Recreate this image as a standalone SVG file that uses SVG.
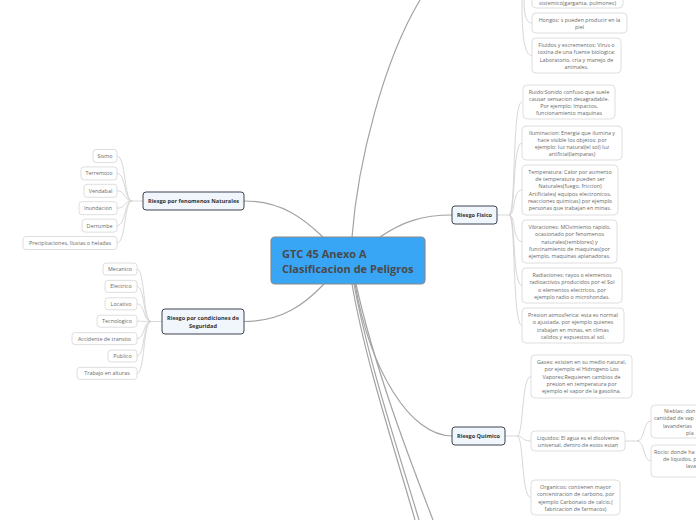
<svg xmlns="http://www.w3.org/2000/svg" width="696" height="520" viewBox="0 0 696 520">
<style>
text{font-family:"Open Sans","Noto Sans","Liberation Sans",sans-serif}
.c1{fill:none;stroke:#a3a3a3;stroke-width:1.2}
.c2{fill:none;stroke:#d2d2d2;stroke-width:0.9}
.leaf rect{fill:#fff;stroke:#d6d6d6;stroke-width:0.8}
.leaf text{font-size:5.4px;fill:#6a6a6a;text-anchor:middle}
.leaf text.s{text-anchor:start}
.main rect{fill:#f1f6fc;stroke:#3c4450;stroke-width:1}
.main text{font-size:5.6px;font-weight:bold;fill:#333;text-anchor:middle}
.root rect{fill:#39a5f5;stroke:#8a8a8a;stroke-width:1.2}
.root text{font-size:11px;font-weight:bold;fill:#4a4a4a}
</style>
<g id="connectors">
<path class="c1" d="M352,237 C358,160 384,60 420,0"/>
<path class="c1" d="M380,237 C402,222 422,215 452,215"/>
<path class="c1" d="M323,237 C304,219 282,201 244,201"/>
<path class="c1" d="M324,284 C305,304 282,321.5 244,321.5"/>
<path class="c1" d="M355,284 C370,370 410,436 452,436"/>
<path class="c1" d="M352,284 C365,360 395,450 415,520"/>
<path class="c1" d="M354,284 C368,360 398,450 419,520"/>
<path class="c1" d="M356,284 C375,370 410,460 433,520"/>
<path class="c2" d="M143,201 H132 C124,201 126,156 117,156"/>
<path class="c2" d="M132,201 C124,201 126,173.4 117,173.4"/>
<path class="c2" d="M132,201 C124,201 126,190.8 117,190.8"/>
<path class="c2" d="M132,201 C124,201 126,208.2 117,208.2"/>
<path class="c2" d="M132,201 C124,201 126,225.6 117,225.6"/>
<path class="c2" d="M132,201 C124,201 126,243 117,243"/>
<path class="c2" d="M162,321.5 H151 C143,321.5 145,269 137,269"/>
<path class="c2" d="M151,321.5 C143,321.5 145,286.4 137,286.4"/>
<path class="c2" d="M151,321.5 C143,321.5 145,303.8 137,303.8"/>
<path class="c2" d="M151,321.5 C143,321.5 145,321.2 137,321.2"/>
<path class="c2" d="M151,321.5 C143,321.5 145,338.6 137,338.6"/>
<path class="c2" d="M151,321.5 C143,321.5 145,356 137,356"/>
<path class="c2" d="M151,321.5 C143,321.5 145,373.4 137,373.4"/>
<path class="c2" d="M497,215 H509 C516,215 512,102 522,102"/>
<path class="c2" d="M509,215 C516,215 512,143 522,143"/>
<path class="c2" d="M509,215 C516,215 512,190 522,190"/>
<path class="c2" d="M509,215 C516,215 512,241.5 522,241.5"/>
<path class="c2" d="M509,215 C516,215 512,285.5 522,285.5"/>
<path class="c2" d="M509,215 C516,215 512,325.5 522,325.5"/>
<path class="c2" d="M505,436 H517 C524,436 521,376.5 531,376.5"/>
<path class="c2" d="M517,436 C524,436 521,441 531,441"/>
<path class="c2" d="M517,436 C524,436 521,497.5 531,497.5"/>
<path class="c2" d="M625,441 H637 C645,441 643,421 651,421"/>
<path class="c2" d="M637,441 C645,441 643,461 651,461"/>
<path class="c2" d="M524,0 C524,15 526,23 532,23"/>
<path class="c2" d="M522,0 C522,35 524,55.5 532,55.5"/>
</g>
<g id="root" class="root">
<rect x="271" y="237" width="154" height="47" rx="4"/>
<text x="282" y="257.5">GTC 45 Anexo A</text>
<text x="282" y="272.5">Clasificacion de Peligros</text>
</g>
<g id="naturales" class="main">
<rect x="143" y="192" width="101" height="18" rx="3"/>
<text x="193.5" y="203">Riesgo por fenomenos Naturales</text>
</g>
<g id="seguridad" class="main">
<rect x="162" y="309" width="82" height="25" rx="3"/>
<text x="203" y="319.5">Riesgo por condiciones de</text>
<text x="203" y="327.5">Seguridad</text>
</g>
<g id="fisico" class="main">
<rect x="452" y="206" width="45" height="18" rx="3"/>
<text x="474.5" y="217">Riesgo Fisico</text>
</g>
<g id="quimico" class="main">
<rect x="452" y="427" width="53" height="18" rx="3"/>
<text x="478.5" y="438">Riesgo Quimico</text>
</g>
<g id="sismo" class="leaf"><rect x="93" y="149.5" width="24" height="13" rx="3"/><text x="105" y="158">Sismo</text></g>
<g id="terremoto" class="leaf"><rect x="81" y="166.9" width="36" height="13" rx="3"/><text x="99" y="175.4">Terremoto</text></g>
<g id="vendabal" class="leaf"><rect x="84" y="184.3" width="33" height="13" rx="3"/><text x="100.5" y="192.8">Vendabal</text></g>
<g id="inundacion" class="leaf"><rect x="79" y="201.7" width="38" height="13" rx="3"/><text x="98" y="210.2">Inundacion</text></g>
<g id="derrumbe" class="leaf"><rect x="82" y="219.1" width="35" height="13" rx="3"/><text x="99.5" y="227.6">Derrumbe</text></g>
<g id="precipitaciones" class="leaf"><rect x="23" y="236.5" width="94" height="13" rx="3"/><text x="70" y="245">Precipitaciones, lluvias o heladas</text></g>
<g id="mecanico" class="leaf"><rect x="103" y="263" width="34" height="12" rx="3"/><text x="120" y="271">Mecanico</text></g>
<g id="electrico" class="leaf"><rect x="105" y="280.4" width="32" height="12" rx="3"/><text x="121" y="288.4">Electrico</text></g>
<g id="locativo" class="leaf"><rect x="105" y="297.8" width="32" height="12" rx="3"/><text x="121" y="305.8">Locativo</text></g>
<g id="tecnologico" class="leaf"><rect x="97" y="315.2" width="40" height="12" rx="3"/><text x="117" y="323.2">Tecnologico</text></g>
<g id="accidente" class="leaf"><rect x="72" y="332.6" width="65" height="12" rx="3"/><text x="104.5" y="340.6">Accidente de transito</text></g>
<g id="publico" class="leaf"><rect x="108" y="350" width="29" height="12" rx="3"/><text x="122.5" y="358">Publico</text></g>
<g id="trabajo" class="leaf"><rect x="77" y="367.4" width="60" height="12" rx="3"/><text x="107" y="375.4">Trabajo en alturas</text></g>
<g id="ruido" class="leaf"><rect x="523" y="85" width="92" height="34" rx="4"/>
<text x="569" y="93.5">Ruido:Sonido confuso que suele</text><text x="569" y="100.8">causar sensacion desagradable.</text><text x="569" y="108.1">Por ejemplo: Impactos,</text><text x="569" y="115.4">funcionamiento maquinas</text></g>
<g id="iluminacion" class="leaf"><rect x="522" y="126" width="100" height="34" rx="4"/>
<text x="572" y="134.5">Iluminacion: Energia que ilumina y</text><text x="572" y="141.8">hace visible los objetos: por</text><text x="572" y="149.1">ejemplo: luz natural(el sol) luz</text><text x="572" y="156.4">artificial(lamparas)</text></g>
<g id="temperatura" class="leaf"><rect x="522" y="165" width="96" height="50" rx="4"/>
<text x="570" y="173.7">Temperatura: Calor por aumento</text><text x="570" y="181">de temperatura pueden ser</text><text x="570" y="188.3">Naturales(fuego, friccion)</text><text x="570" y="195.6">Artificiales( equipos electronicos,</text><text x="570" y="202.9">reacciones quimicas) por ejemplo</text><text x="570" y="210.2">personas que trabajan en minas.</text></g>
<g id="vibraciones" class="leaf"><rect x="522" y="220" width="95" height="43" rx="4"/>
<text x="569.5" y="228.9">Vibraciones: MOvimiento rapido,</text><text x="569.5" y="236.2">ocasionado por fenomenos</text><text x="569.5" y="243.5">naturales(temblores) y</text><text x="569.5" y="250.8">funcinamiento de maquinas(por</text><text x="569.5" y="258.1">ejemplo, maquinas aplanadoras.</text></g>
<g id="radiaciones" class="leaf"><rect x="522" y="268" width="100" height="35" rx="4"/>
<text x="572" y="277">Radiaciones: rayos o elementos</text><text x="572" y="284.3">radioactivos producidos por el Sol</text><text x="572" y="291.6">o elementos electricos, por</text><text x="572" y="298.9">ejemplo radio o microhondas.</text></g>
<g id="presion" class="leaf"><rect x="522" y="308" width="102" height="35" rx="4"/>
<text x="573" y="317">Presion atmosferica: esta es normal</text><text x="573" y="324.3">o ajustada. por ejemplo quienes</text><text x="573" y="331.6">trabajan en minas, en climas</text><text x="573" y="338.9">calidos y expuestos al sol.</text></g>
<g id="gases" class="leaf"><rect x="531" y="355" width="101" height="43" rx="4"/>
<text x="581.5" y="363.9">Gases: existen en su medio natural,</text><text x="581.5" y="371.2">por ejemplo el Hidrogeno  Los</text><text x="581.5" y="378.5">Vapores:Requieren cambios de</text><text x="581.5" y="385.8">presion en temperatura por</text><text x="581.5" y="393.1">ejemplo el vapor de la gasolina.</text></g>
<g id="liquidos" class="leaf"><rect x="531" y="431" width="94" height="20" rx="4"/>
<text x="578" y="439.5">Liquidos: El agua es el disolvente</text><text x="578" y="446.8">universal, dentro de estos estan</text></g>
<g id="organicos" class="leaf"><rect x="531" y="480" width="89" height="35" rx="4"/>
<text x="575.5" y="489">Organicos: contienen mayor</text><text x="575.5" y="496.3">concentracion de carbono, por</text><text x="575.5" y="503.6">ejemplo Carbonato de calcio.(</text><text x="575.5" y="510.9">fabricacion de farmacos)</text></g>
<g id="nieblas" class="leaf"><rect x="651" y="405" width="100" height="33" rx="4"/>
<text class="s" x="664" y="413">Nieblas: don</text><text class="s" x="654" y="420.3">cantidad de vap</text><text class="s" x="663" y="427.6">lavanderias</text><text class="s" x="686" y="434.9">pla</text></g>
<g id="rocio" class="leaf"><rect x="651" y="445" width="100" height="32" rx="4"/>
<text class="s" x="654" y="453.5">Rocio: donde ha</text><text class="s" x="663" y="460.8">de liquidos, p</text><text class="s" x="686" y="468.1">lava</text></g>
<g id="sistemico" class="leaf"><rect x="532" y="-20" width="91" height="28" rx="4"/>
<text x="577.5" y="5.3">sistemico(garganta, pulmones)</text></g>
<g id="hongos" class="leaf"><rect x="532" y="13" width="95" height="20" rx="4"/>
<text x="579.5" y="21.5">Hongos: s pueden producir en la</text><text x="579.5" y="28.8">piel</text></g>
<g id="fluidos" class="leaf"><rect x="532" y="38" width="89" height="35" rx="4"/>
<text x="576.5" y="47">Fluidos y excrementos: Virus o</text><text x="576.5" y="54.3">toxina de una fuente biologica:</text><text x="576.5" y="61.6">Laboratorio, cria y manejo de</text><text x="576.5" y="68.9">animales.</text></g>
</svg>
